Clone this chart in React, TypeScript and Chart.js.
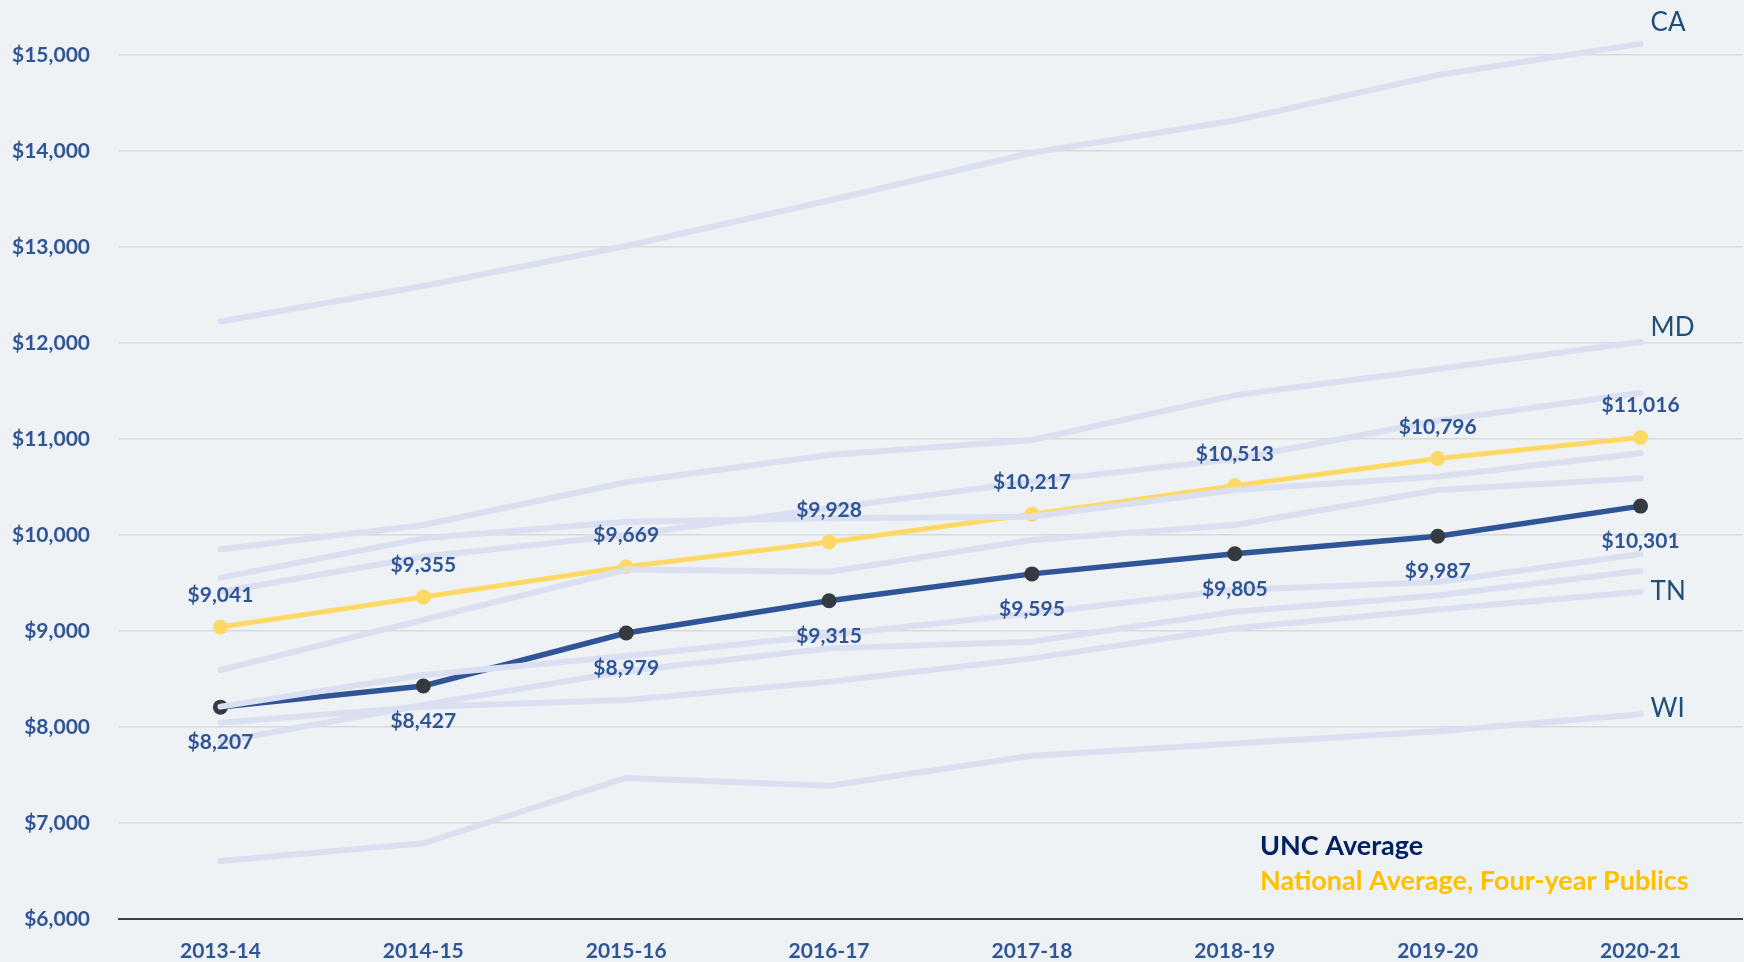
import React, { useEffect, useRef } from 'react';
import { Chart, registerables } from 'chart.js';

Chart.register(...registerables);

// ---- Data ----
const years = ['2013-14', '2014-15', '2015-16', '2016-17', '2017-18', '2018-19', '2019-20', '2020-21'];
const uncAverage = [8207, 8427, 8979, 9315, 9595, 9805, 9987, 10301];
const nationalAverage = [9041, 9355, 9669, 9928, 10217, 10513, 10796, 11016];

// peer states (grey background lines)
const caValues = [12224, 12594, 13010, 13484, 13982, 14317, 14792, 15116];
const mdValues = [9851, 10104, 10550, 10834, 10990, 11455, 11730, 12014];
const peer3Values = [9409, 9774, 10000, 10278, 10556, 10792, 11190, 11479];
const peer4Values = [9556, 9965, 10139, 10174, 10191, 10469, 10610, 10851];
const peer5Values = [8594, 9115, 9640, 9618, 9948, 10104, 10469, 10590];
const peer6Values = [8212, 8542, 8740, 8958, 9184, 9427, 9510, 9802];
const peer7Values = [7847, 8230, 8580, 8819, 8889, 9201, 9370, 9628];
const tnValues = [8045, 8212, 8281, 8472, 8715, 9028, 9225, 9409];
const wiValues = [6604, 6789, 7469, 7388, 7700, 7827, 7955, 8132];

const peerNames = ['CA', 'MD', 'Peer 3', 'Peer 4', 'Peer 5', 'Peer 6', 'Peer 7', 'TN', 'WI'];
const peerSeries = [caValues, mdValues, peer3Values, peer4Values, peer5Values, peer6Values, peer7Values, tnValues, wiValues];
const labelledStates = ['CA', 'MD', 'TN', 'WI'];
const stateLabelOffsets = [-13, -6, 8, 3];

const yMin = 6000;
const yMax = 15000;
const yStep = 1000;

const legendItems = ['UNC Average', 'National Average, Four-year Publics'];

// ---- Styles ----
const BG = '#EEF2F4';
const BLUE = '#2F5597';
const YELLOW = '#FFD966';
const PEER = '#DAE0F2';
const FONT = 'Lato, "Open Sans", sans-serif';

const fmt = (v: number) => '$' + v.toLocaleString('en-US');

const labelPlugin = {
  id: 'customLabels',
  beforeDraw(chart: any) {
    const { ctx, width, height } = chart;
    ctx.save();
    ctx.fillStyle = BG;
    ctx.fillRect(0, 0, width, height);
    ctx.restore();
  },
  afterDatasetsDraw(chart: any) {
    const { ctx } = chart;
    ctx.save();
    // data labels
    ctx.font = `bold 21px ${FONT}`;
    ctx.fillStyle = BLUE;
    ctx.textAlign = 'center';
    ctx.textBaseline = 'alphabetic';
    chart.data.datasets.forEach((ds: any, di: number) => {
      if (ds.label !== 'UNC Average' && ds.label !== 'National Average, Four-year Publics') return;
      const meta = chart.getDatasetMeta(di);
      const above = ds.label !== 'UNC Average';
      meta.data.forEach((pt: any, i: number) => {
        const y = above ? pt.y - 25 : pt.y + 42;
        ctx.fillText(fmt(ds.data[i]), pt.x, y);
      });
    });
    // state labels
    ctx.font = `26px ${FONT}`;
    ctx.fillStyle = '#1F4E79';
    ctx.textAlign = 'left';
    labelledStates.forEach((name, k) => {
      const di = chart.data.datasets.findIndex((d: any) => d.label === name);
      if (di < 0) return;
      const meta = chart.getDatasetMeta(di);
      const last = meta.data[meta.data.length - 1];
      ctx.fillText(name, last.x + 10, last.y + stateLabelOffsets[k]);
    });
    // legend text
    const area = chart.chartArea;
    ctx.font = `bold 27px ${FONT}`;
    ctx.fillStyle = '#002060';
    ctx.fillText(legendItems[0], area.right - 482, area.bottom - 64);
    ctx.fillStyle = '#FFC000';
    ctx.fillText(legendItems[1], area.right - 482, area.bottom - 29);
    ctx.restore();
  },
};

export default function App() {
  const ref = useRef<HTMLCanvasElement | null>(null);

  useEffect(() => {
    document.body.style.margin = '0';
    document.body.style.background = BG;
    const canvas = ref.current;
    if (!canvas) return;

    const peerDatasets = peerSeries.map((vals, i) => ({
      label: peerNames[i],
      data: vals,
      borderColor: PEER,
      backgroundColor: PEER,
      borderWidth: 6,
      pointRadius: 0,
      borderCapStyle: 'round',
      borderJoinStyle: 'round',
      tension: 0,
      clip: false,
    }));

    const chart = new Chart(canvas, {
      type: 'line',
      data: {
        labels: years,
        datasets: [
          ...peerDatasets,
          {
            label: 'UNC Average',
            data: uncAverage,
            borderColor: BLUE,
            backgroundColor: '#343A40',
            pointBackgroundColor: '#343A40',
            pointBorderWidth: 0,
            pointRadius: 7.5,
            borderWidth: 5.5,
            tension: 0,
            clip: false,
          },
          {
            label: 'National Average, Four-year Publics',
            data: nationalAverage,
            borderColor: YELLOW,
            backgroundColor: YELLOW,
            pointBackgroundColor: YELLOW,
            pointBorderWidth: 0,
            pointRadius: 7.5,
            borderWidth: 5,
            tension: 0,
            clip: false,
          },
        ] as any,
      },
      options: {
        responsive: false,
        maintainAspectRatio: false,
        animation: false,
        devicePixelRatio: 1,
        layout: { autoPadding: false, padding: { top: 55, right: 2, left: 0, bottom: 0 } },
        plugins: {
          legend: { display: false },
          tooltip: { enabled: false },
          title: { display: false },
        },
        scales: {
          x: {
            type: 'category',
            offset: true,
            grid: { display: false, drawTicks: false },
            border: { display: true, color: '#404040', width: 2 },
            ticks: {
              color: BLUE,
              font: { family: FONT, size: 21, weight: 'bold' },
              padding: 20,
              maxRotation: 0,
              autoSkip: false,
            },
            afterFit(scale: any) {
              scale.height = 43;
            },
          },
          y: {
            min: yMin,
            max: yMax,
            grid: { color: '#D6DADD', lineWidth: 1.5, drawTicks: false },
            border: { display: false },
            ticks: {
              stepSize: yStep,
              color: BLUE,
              font: { family: FONT, size: 21, weight: 'bold' },
              padding: 29,
              callback: (v: any) => fmt(Number(v)),
            },
            afterFit(scale: any) {
              scale.width = 119;
            },
          },
        },
      } as any,
      plugins: [labelPlugin],
    });

    return () => chart.destroy();
  }, []);

  return (
    <div style={{ width: 1744, height: 962 }}>
      <canvas ref={ref} width={1744} height={962} style={{ display: 'block' }} />
    </div>
  );
}
